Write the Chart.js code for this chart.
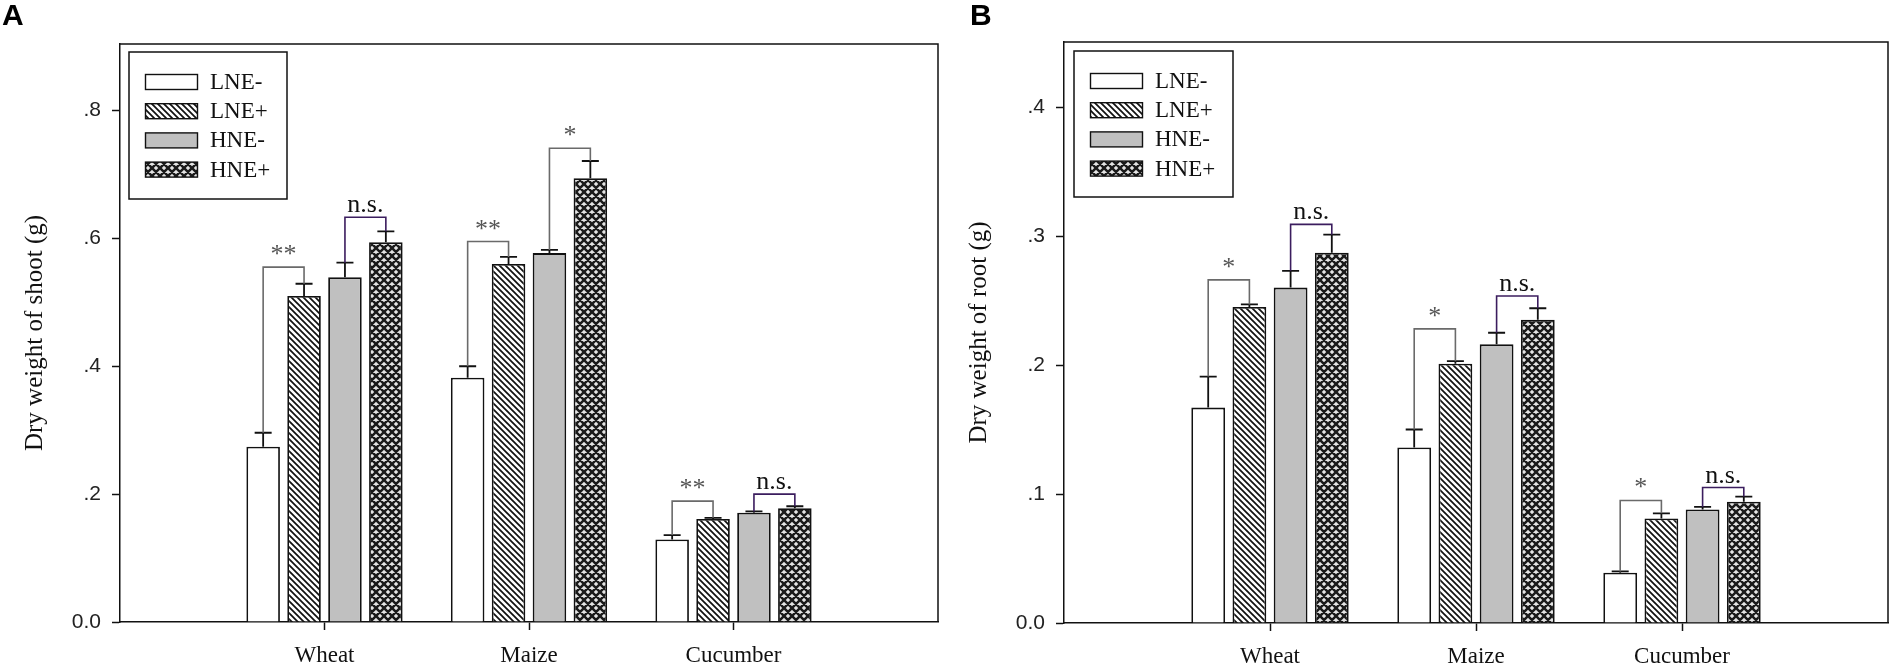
<!DOCTYPE html>
<html><head><meta charset="utf-8">
<script src="https://cdn.jsdelivr.net/npm/chart.js@4.4.1/dist/chart.umd.min.js"></script>
<style>
html,body{margin:0;padding:0;background:#fff;width:1900px;height:669px;overflow:hidden;}
#wa{position:absolute;left:0;top:0;width:950px;height:669px;}
#wb{position:absolute;left:944px;top:0;width:956px;height:669px;}
canvas{display:block;}
</style></head><body>
<div id="wa"><canvas id="ca" width="950" height="669"></canvas></div>
<div id="wb"><canvas id="cb" width="956" height="669"></canvas></div>
<script>
// ---------- DATA ----------
const categories = ['Wheat', 'Maize', 'Cucumber'];
const seriesNames = ['LNE-', 'LNE+', 'HNE-', 'HNE+'];

// Panel A: dry weight of shoot (g)
const shootLNEminus = [0.274, 0.382, 0.129];
const shootLNEplus  = [0.510, 0.560, 0.161];
const shootHNEminus = [0.539, 0.577, 0.171];
const shootHNEplus  = [0.594, 0.694, 0.178];
const shootErrLNEminus = [0.022, 0.018, 0.007];
const shootErrLNEplus  = [0.019, 0.011, 0.002];
const shootErrHNEminus = [0.023, 0.005, 0.002];
const shootErrHNEplus  = [0.017, 0.027, 0.003];
// brackets: per category, pair (LNE-,LNE+) then (HNE-,HNE+)
const shootSigLevels = [0.555, 0.633, 0.595, 0.741, 0.189, 0.200];
const shootSigLabels = ['**', 'n.s.', '**', '*', '**', 'n.s.'];
const shootTicks = [0, 0.2, 0.4, 0.6, 0.8];

// Panel B: dry weight of root (g)
const rootLNEminus = [0.167, 0.136, 0.039];
const rootLNEplus  = [0.245, 0.201, 0.081];
const rootHNEminus = [0.260, 0.216, 0.088];
const rootHNEplus  = [0.287, 0.235, 0.094];
const rootErrLNEminus = [0.024, 0.014, 0.001];
const rootErrLNEplus  = [0.002, 0.002, 0.004];
const rootErrHNEminus = [0.013, 0.009, 0.002];
const rootErrHNEplus  = [0.014, 0.009, 0.004];
const rootSigLevels = [0.266, 0.309, 0.228, 0.2535, 0.095, 0.105];
const rootSigLabels = ['*', 'n.s.', '*', 'n.s.', '*', 'n.s.'];
const rootTicks = [0, 0.1, 0.2, 0.3, 0.4];

// ---------- STYLE ----------
Chart.defaults.font.family = '"Liberation Serif", "Times New Roman", serif';
Chart.defaults.color = '#111';

function hatchPattern() {
  const s = 6, c = document.createElement('canvas'); c.width = s; c.height = s;
  const g = c.getContext('2d');
  g.fillStyle = '#fff'; g.fillRect(0, 0, s, s);
  g.strokeStyle = '#111'; g.lineWidth = 1.7;
  g.beginPath();
  for (let k = -s; k <= s; k += s) { g.moveTo(k - 1, -1); g.lineTo(k + s + 1, s + 1); }
  g.stroke();
  return g.createPattern(c, 'repeat');
}
function crossPattern() {
  const s = 8, c = document.createElement('canvas'); c.width = s; c.height = s;
  const g = c.getContext('2d');
  g.fillStyle = '#e4e4e4'; g.fillRect(0, 0, s, s);
  g.strokeStyle = '#1a1a1a'; g.lineWidth = 2.5;
  g.beginPath();
  for (let k = -s; k <= s; k += s) {
    g.moveTo(k - 1, -1); g.lineTo(k + s + 1, s + 1);
    g.moveTo(k + s + 1, -1); g.lineTo(k - 1, s + 1);
  }
  g.stroke();
  return g.createPattern(c, 'repeat');
}
const fills = ['#ffffff', hatchPattern(), '#c0c0c0', crossPattern()];

const padEnds = arr => [null, ...arr, null];
const labels = ['', ...categories, ''];

function makeDatasets(series) {
  return series.map((vals, i) => ({
    label: seriesNames[i],
    data: padEnds(vals),
    backgroundColor: fills[i],
    borderColor: '#111',
    borderWidth: 1.8,
    categoryPercentage: 0.8,
    barPercentage: 0.82
  }));
}

// ---------- PLUGINS ----------
const framePlugin = {
  id: 'frame',
  afterDatasetsDraw(chart) {
    const {ctx, chartArea: a} = chart;
    ctx.save();
    ctx.strokeStyle = '#111'; ctx.lineWidth = 1.5;
    ctx.beginPath();
    ctx.moveTo(a.left, a.top); ctx.lineTo(a.right, a.top); ctx.lineTo(a.right, a.bottom);
    ctx.stroke();
    ctx.restore();
  }
};

const errSigPlugin = {
  id: 'errsig',
  afterDatasetsDraw(chart, args, opts) {
    const ctx = chart.ctx, ys = chart.scales.y;
    const caps = [];
    ctx.save();
    chart.data.datasets.forEach((ds, i) => {
      const meta = chart.getDatasetMeta(i);
      caps[i] = [];
      opts.errors[i].forEach((e, c) => {
        const el = meta.data[c + 1];
        const v = ds.data[c + 1];
        const yc = ys.getPixelForValue(v + e);
        caps[i][c] = {x: el.x, y: yc};
        ctx.strokeStyle = '#111'; ctx.lineWidth = 1.8;
        ctx.beginPath();
        ctx.moveTo(el.x, el.y); ctx.lineTo(el.x, yc);
        ctx.moveTo(el.x - 8.5, yc); ctx.lineTo(el.x + 8.5, yc);
        ctx.stroke();
      });
    });
    opts.levels.forEach((lv, k) => {
      const c = Math.floor(k / 2), p = k % 2;
      const a = caps[2 * p][c], b = caps[2 * p + 1][c];
      const ly = ys.getPixelForValue(lv);
      const txt = opts.labels[k];
      const ns = txt === 'n.s.';
      ctx.strokeStyle = ns ? '#3b1d5e' : '#6a6a6a';
      ctx.lineWidth = 1.6;
      ctx.beginPath();
      ctx.moveTo(a.x, a.y); ctx.lineTo(a.x, ly); ctx.lineTo(b.x, ly); ctx.lineTo(b.x, b.y);
      ctx.stroke();
      const mx = (a.x + b.x) / 2;
      ctx.textAlign = 'center';
      ctx.textBaseline = 'alphabetic';
      if (ns) {
        ctx.fillStyle = '#111';
        ctx.font = '26px "Liberation Serif"';
        ctx.fillText(txt, mx, ly - 5);
      } else {
        ctx.fillStyle = '#555';
        ctx.font = '26px "Liberation Serif"';
        ctx.fillText(txt, mx, ly - 5);
      }
    });
    ctx.restore();
  }
};

const legendPlugin = {
  id: 'boxLegend',
  afterDraw(chart, args, opts) {
    const {ctx, chartArea: a} = chart;
    const x0 = a.left + opts.dx, y0 = a.top + opts.dy;
    ctx.save();
    ctx.lineWidth = 1.5; ctx.strokeStyle = '#111';
    ctx.strokeRect(x0, y0, opts.w, opts.h);
    chart.data.datasets.forEach((ds, i) => {
      const cy = y0 + 30 + i * 29.2;
      ctx.fillStyle = ds.backgroundColor;
      ctx.fillRect(x0 + 16.5, cy - 7.5, 52, 15);
      ctx.lineWidth = 1.4;
      ctx.strokeRect(x0 + 16.5, cy - 7.5, 52, 15);
      ctx.fillStyle = '#111';
      ctx.font = '23px "Liberation Serif"';
      ctx.textBaseline = 'middle';
      ctx.textAlign = 'left';
      ctx.fillText(ds.label, x0 + 81, cy + 1);
    });
    ctx.restore();
  }
};

const letterPlugin = {
  id: 'panelLetter',
  afterDraw(chart, args, opts) {
    const ctx = chart.ctx;
    ctx.save();
    ctx.fillStyle = '#000';
    ctx.font = 'bold 30px "Liberation Sans", Arial, sans-serif';
    ctx.textBaseline = 'top';
    ctx.textAlign = 'left';
    ctx.fillText(opts.text, opts.x, opts.y);
    ctx.restore();
  }
};

function makeChart(canvasId, cfg) {
  return new Chart(document.getElementById(canvasId), {
    type: 'bar',
    data: {labels: labels, datasets: makeDatasets(cfg.series)},
    plugins: [framePlugin, errSigPlugin, legendPlugin, letterPlugin],
    options: {
      responsive: false,
      animation: false,
      events: [],
      layout: {padding: {top: cfg.top, right: cfg.right, bottom: 0, left: 0}},
      plugins: {
        legend: {display: false},
        tooltip: {enabled: false},
        errsig: {errors: cfg.errors, levels: cfg.levels, labels: cfg.sigLabels},
        boxLegend: {dx: cfg.legDx, dy: cfg.legDy, w: cfg.legW, h: cfg.legH},
        panelLetter: {text: cfg.letter, x: cfg.letterX, y: 2}
      },
      scales: {
        x: {
          type: 'category',
          offset: false,
          afterFit: s => { s.height = cfg.xh; },
          grid: {
            display: true, offset: false, drawOnChartArea: false, drawTicks: true,
            tickLength: 8, tickWidth: 1.5,
            tickColor: c => (c.index === 0 || c.index === labels.length - 1) ? 'rgba(0,0,0,0)' : '#111'
          },
          border: {display: true, color: '#111', width: 1.5},
          ticks: {
            autoSkip: false, maxRotation: 0, padding: 12, color: '#111',
            font: {family: '"Liberation Serif"', size: 23}
          }
        },
        y: {
          min: 0, max: cfg.max,
          afterFit: s => { s.width = 120; },
          afterBuildTicks: s => { s.ticks = cfg.ticks.map(v => ({value: v})); },
          grid: {display: true, drawOnChartArea: false, drawTicks: true, tickLength: 8, tickWidth: 1.5, tickColor: '#111'},
          border: {display: true, color: '#111', width: 1.5},
          ticks: {
            padding: 11, color: '#222',
            font: {family: '"Liberation Sans", Arial, sans-serif', size: 21},
            callback: v => v === 0 ? '0.0' : '.' + Math.round(v * 10)
          },
          title: {
            display: true, text: cfg.title, color: '#111',
            font: {family: '"Liberation Serif"', size: 25},
            padding: {top: 20, bottom: 0}
          }
        }
      }
    }
  });
}

makeChart('ca', {
  series: [shootLNEminus, shootLNEplus, shootHNEminus, shootHNEplus],
  errors: [shootErrLNEminus, shootErrLNEplus, shootErrHNEminus, shootErrHNEplus],
  levels: shootSigLevels, sigLabels: shootSigLabels,
  ticks: shootTicks, max: 0.904,
  title: 'Dry weight of shoot (g)',
  top: 44, right: 6, xh: 47,
  legDx: 9, legDy: 8, legW: 158, legH: 147,
  letter: 'A', letterX: 2
});

makeChart('cb', {
  series: [rootLNEminus, rootLNEplus, rootHNEminus, rootHNEplus],
  errors: [rootErrLNEminus, rootErrLNEplus, rootErrHNEminus, rootErrHNEplus],
  levels: rootSigLevels, sigLabels: rootSigLabels,
  ticks: rootTicks, max: 0.4504,
  title: 'Dry weight of root (g)',
  top: 42, right: 5, xh: 46,
  legDx: 10, legDy: 9, legW: 159, legH: 146,
  letter: 'B', letterX: 26
});
</script>
</body></html>
